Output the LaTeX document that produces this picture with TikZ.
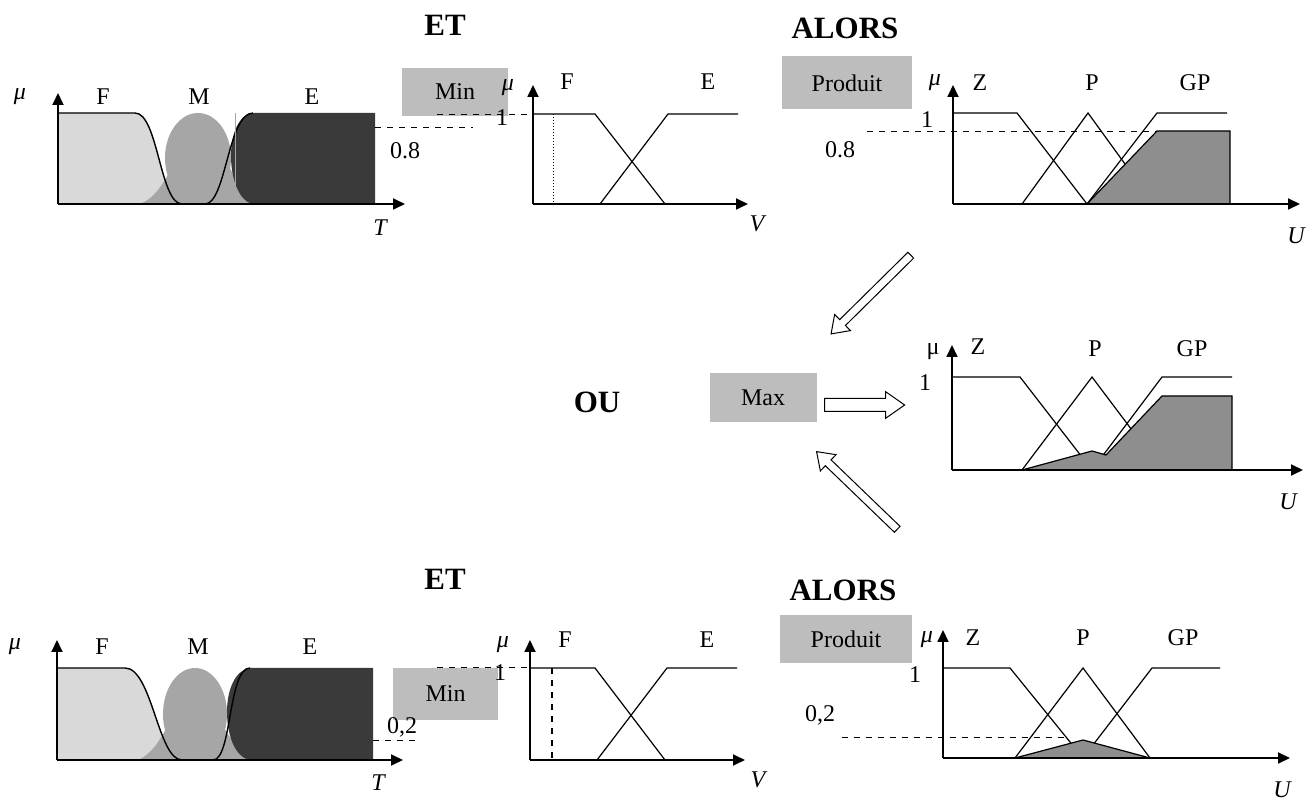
\documentclass[tikz,border=0pt]{standalone}
\usepackage{fontspec}
\setmainfont{Liberation Serif}
\usetikzlibrary{arrows.meta,shapes.arrows}
\definecolor{lowgray}{HTML}{D9D9D9}
\definecolor{medgray}{HTML}{A6A6A6}
\definecolor{highgray}{HTML}{3A3A3A}
\definecolor{opgray}{HTML}{BDBDBD}
\definecolor{outgray}{HTML}{8E8E8E}
\begin{document}
\begin{tikzpicture}[x=0.5pt, y=-0.5pt, line width=0.6pt,
    axis/.style={line width=0.9pt, -{Triangle[length=6pt,width=5.5pt]}},
    opbox/.style={fill=opgray, inner sep=0pt, font=\fontsize{12}{13}\selectfont},
    title/.style={font=\fontsize{15.5}{17}\selectfont\bfseries, inner sep=0pt},
    lbl/.style={font=\fontsize{12}{13}\selectfont, inner sep=0pt},
    hollow/.style={single arrow, draw, fill=white, line width=0.5pt,
        single arrow tip angle=70, midway, sloped, allow upside down}]
    \useasboundingbox (0,0) rectangle (1312,801);

    % premiere regle
    \node[title] (etA) at (445,25) {ET};
    \node[title] (alorsA) at (845,28) {ALORS};
    \node[opbox, minimum width=53pt, minimum height=24pt] (minA) at (455,92) {Min};
    \node[opbox, minimum width=65pt, minimum height=26.5pt] (produitA) at (847,83) {Produit};

    \fill[lowgray] (58,204) -- (58,113) -- (135,113) .. controls (158,113) and (160,204) .. (182,204) -- cycle;
    \fill[medgray] (140,204) .. controls (155,198) and (162,185) .. (172,168) -- (230,168)
        .. controls (238,185) and (245,198) .. (258,204) -- cycle;
    \fill[medgray] (198,158) ellipse (33 and 45);
    \fill[highgray] (375,204) -- (375,113) -- (253,113) .. controls (238,115) and (231,135) .. (231,156)
        .. controls (231,180) and (240,204) .. (255,204) -- cycle;
    \draw[line width=0.7pt] (58,113) -- (135,113) .. controls (158,113) and (160,204) .. (182,204)
        -- (205,204) .. controls (226,204) and (228,113) .. (253,113);
    \draw[gray!70, line width=0.3pt] (235,113) -- (235,204);
    \draw[dashed, line width=0.5pt] (375,128) -- (473,128);
    \draw[dashed, line width=0.5pt] (437,115) -- (533,115);
    \draw[axis] (58,204) -- (58,93);
    \draw[axis] (58,204) -- (405,204);
    \node[lbl] (muTA) at (20,97) {\itshape μ};
    \node[lbl] (fTA) at (103,97) {F};
    \node[lbl] (mTA) at (199,97) {M};
    \node[lbl] (eTA) at (312,97) {E};
    \node[lbl] (tA) at (380,228) {\itshape T};
    \node[lbl] (lowA) at (405,151) {0.8};

    \draw (533,114) -- (595,114) -- (665,204);
    \draw (600,204) -- (668,114) -- (738,114);
    \draw[densely dotted, line width=0.5pt] (553,114) -- (553,204);
    \draw[axis] (533,204) -- (533,85);
    \draw[axis] (533,204) -- (748,204);
    \node[lbl] (muVA) at (508,88) {\itshape μ};
    \node[lbl] (oneVA) at (502,118) {1};
    \node[lbl] (fVA) at (567,82) {F};
    \node[lbl] (eVA) at (708,82) {E};
    \node[lbl] (vA) at (757,224) {\itshape V};

    \draw (1022,204) -- (1088,113) -- (1154,204);
    \draw (953,113) -- (1017,113) -- (1087,204);
    \draw (1087,204) -- (1157,113) -- (1227,113);
    \draw[fill=outgray] (1087,204) -- (1157,131) -- (1230,131) -- (1230,204) -- cycle;
    \draw[dashed, line width=0.4pt] (867,131) -- (1157,131);
    \draw[axis] (953,204) -- (953,85);
    \draw[axis] (953,204) -- (1300,204);
    \node[lbl] (muUA) at (935,83) {\itshape μ};
    \node[lbl] (oneUA) at (927,120) {1};
    \node[lbl] (lowUA) at (840,150) {0.8};
    \node[lbl] (zA) at (980,83) {Z};
    \node[lbl] (pA) at (1092,83) {P};
    \node[lbl] (gpA) at (1195,83) {GP};
    \node[lbl] (uA) at (1296,236) {\itshape U};

    % agregation
    \node[title] (ou) at (597,402) {OU};
    \node[opbox, minimum width=53.5pt, minimum height=24.5pt] (maxB) at (763,398) {Max};
    \coordinate (fromA) at (913,253);
    \coordinate (toA) at (833,332);
    \coordinate (fromB) at (820,405);
    \coordinate (toB) at (900,405);
    \coordinate (fromC) at (900,532);
    \coordinate (toC) at (818,453);
    \path (fromA) -- (toA) node[hollow, minimum height=56pt, inner sep=1.8pt, single arrow head extend=3.6pt] (arrA) {};
    \path (fromB) -- (toB) node[hollow, minimum height=40pt, inner sep=3pt, single arrow head extend=3.4pt] (arrB) {};
    \path (fromC) -- (toC) node[hollow, minimum height=56pt, inner sep=1.8pt, single arrow head extend=3.6pt] (arrC) {};

    \draw (952,377) -- (1020,377) -- (1092,470);
    \draw (1022,470) -- (1092,377) -- (1162,470);
    \draw (1092,470) -- (1162,377) -- (1232,377);
    \draw[fill=outgray] (1022,470) -- (1092,451) -- (1106,455) -- (1162,396) -- (1232,396)
        -- (1232,470) -- cycle;
    \draw[axis] (952,470) -- (952,345);
    \draw[axis] (952,470) -- (1303,470);
    \node[lbl] (muUB) at (933,352) {μ};
    \node[lbl] (oneUB) at (925,383) {1};
    \node[lbl] (zB) at (978,347) {Z};
    \node[lbl] (pB) at (1095,349) {P};
    \node[lbl] (gpB) at (1192,349) {GP};
    \node[lbl] (uB) at (1288,502) {\itshape U};

    % deuxieme regle
    \node[title] (etC) at (445,579) {ET};
    \node[title] (alorsC) at (843,590) {ALORS};
    \node[opbox, minimum width=52.5pt, minimum height=26pt] (minC) at (445.5,694) {Min};
    \node[opbox, minimum width=66pt, minimum height=24pt] (produitC) at (846,639) {Produit};

    \fill[lowgray] (57,760) -- (57,668) -- (125,668) .. controls (152,668) and (158,760) .. (182,760) -- cycle;
    \fill[medgray] (138,760) .. controls (152,754) and (160,740) .. (168,725) -- (222,725)
        .. controls (232,740) and (240,754) .. (255,760) -- cycle;
    \fill[medgray] (195,714) ellipse (32 and 46);
    \fill[highgray] (373,760) -- (373,668) -- (250,668) .. controls (235,670) and (227,690) .. (227,712)
        .. controls (227,738) and (237,760) .. (252,760) -- cycle;
    \draw[line width=0.7pt] (57,668) -- (125,668) .. controls (152,668) and (158,760) .. (182,760)
        -- (213,760) .. controls (232,760) and (228,668) .. (250,668);
    \draw[dashed, line width=0.4pt] (373,740) -- (420,740);
    \draw[dashed, line width=0.5pt] (437,668) -- (530,668);
    \draw[axis] (57,760) -- (57,640);
    \draw[axis] (57,760) -- (403,760);
    \node[lbl] (muTC) at (15,647) {\itshape μ};
    \node[lbl] (fTC) at (102,647) {F};
    \node[lbl] (mTC) at (198,647) {M};
    \node[lbl] (eTC) at (310,647) {E};
    \node[lbl] (tC) at (378,783) {\itshape T};
    \node[lbl] (lowC) at (402,727) {0,2};

    \draw (530,668) -- (595,668) -- (665,760);
    \draw (597,760) -- (667,668) -- (737,668);
    \draw[dashed, line width=0.6pt] (552,668) -- (552,760);
    \draw[axis] (530,760) -- (530,640);
    \draw[axis] (530,760) -- (745,760);
    \node[lbl] (muVC) at (503,645) {\itshape μ};
    \node[lbl] (oneVC) at (500,673) {1};
    \node[lbl] (fVC) at (565,640) {F};
    \node[lbl] (eVC) at (707,640) {E};
    \node[lbl] (vC) at (758,780) {\itshape V};

    \draw (943,668) -- (1010,668) -- (1083,758);
    \draw (1015,758) -- (1083,668) -- (1150,758);
    \draw (1083,758) -- (1152,668) -- (1220,668);
    \draw[fill=outgray] (1015,758) -- (1083,740) -- (1150,758) -- cycle;
    \draw[dashed, line width=0.4pt] (842,737) -- (1070,737);
    \draw[axis] (943,758) -- (943,630);
    \draw[axis] (943,758) -- (1290,758);
    \node[lbl] (muUC) at (927,640) {\itshape μ};
    \node[lbl] (oneUC) at (915,675) {1};
    \node[lbl] (lowUC) at (820,715) {0,2};
    \node[lbl] (zC) at (973,638) {Z};
    \node[lbl] (pC) at (1083,638) {P};
    \node[lbl] (gpC) at (1183,638) {GP};
    \node[lbl] (uC) at (1282,790) {\itshape U};
\end{tikzpicture}
\end{document}
